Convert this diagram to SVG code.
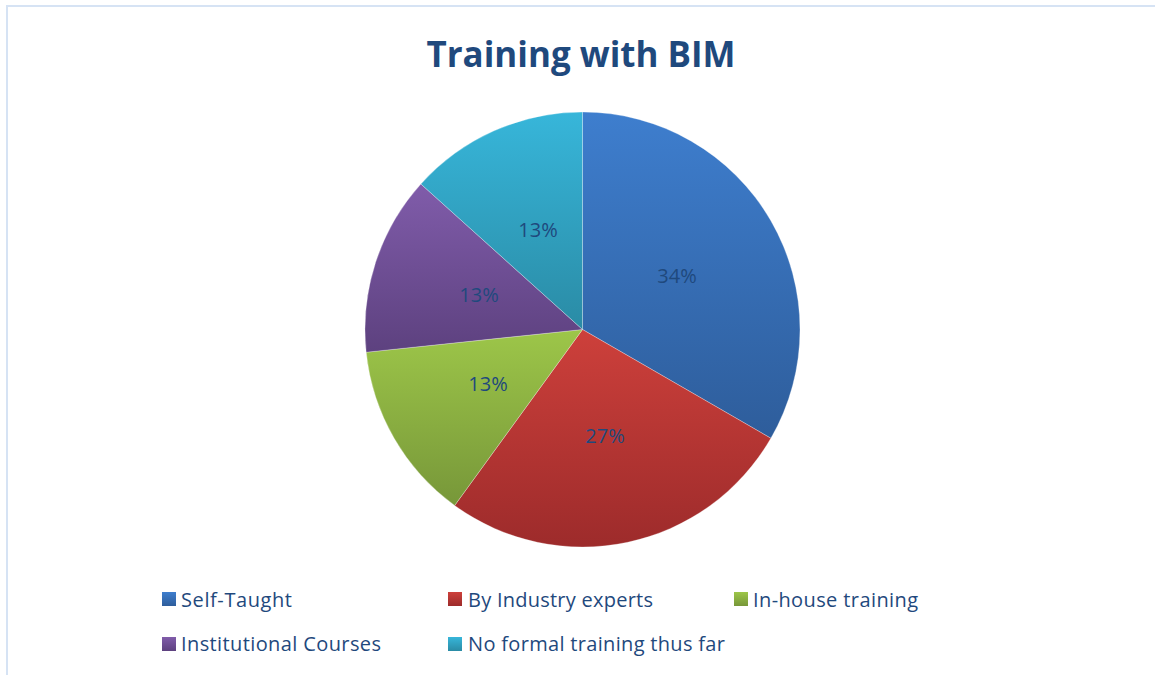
<svg xmlns="http://www.w3.org/2000/svg" width="1155" height="675" viewBox="0 0 1155 675">
  <style>
    .title { font-family: "Open Sans", "Liberation Sans", sans-serif; font-weight: bold; font-size: 36px; fill: #1F497D; }
    .pct { font-family: "Open Sans", "Liberation Sans", sans-serif; font-size: 20px; fill: #1F497D; text-anchor: middle; }
    .leg { font-family: "Open Sans", "Liberation Sans", sans-serif; font-size: 20px; fill: #1F497D; }
    .slice { stroke: #ffffff; stroke-opacity: 0.35; stroke-width: 0.8; }
  </style>
  <defs>
    <linearGradient id="gBlue" x1="0" y1="0" x2="0" y2="1"><stop offset="0" stop-color="#3E7ECE"/><stop offset="1" stop-color="#2E5D9B"/></linearGradient>
    <linearGradient id="gRed" x1="0" y1="0" x2="0" y2="1"><stop offset="0" stop-color="#CD403B"/><stop offset="1" stop-color="#9D2B2B"/></linearGradient>
    <linearGradient id="gGreen" x1="0" y1="0" x2="0" y2="1"><stop offset="0" stop-color="#9DC649"/><stop offset="1" stop-color="#779739"/></linearGradient>
    <linearGradient id="gPurple" x1="0" y1="0" x2="0" y2="1"><stop offset="0" stop-color="#805CAA"/><stop offset="1" stop-color="#5D417F"/></linearGradient>
    <linearGradient id="gTeal" x1="0" y1="0" x2="0" y2="1"><stop offset="0" stop-color="#37B6DA"/><stop offset="1" stop-color="#2A8BA5"/></linearGradient>
  </defs>

  <rect x="0" y="0" width="1155" height="675" fill="#ffffff"/>
  <path d="M7,675 V6 H1155" fill="none" stroke="#D6E3F4" stroke-width="2"/>

  <text class="title" x="581" y="67" text-anchor="middle" textLength="309" lengthAdjust="spacingAndGlyphs">Training with BIM</text>

  <g id="pie">
    <g id="slice-self-taught"><path class="slice" fill="url(#gBlue)" d="M582.5,329.5 L582.5,112 A217.5,217.5 0 0 1 770.86,438.25 Z"/></g>
    <g id="slice-industry"><path class="slice" fill="url(#gRed)" d="M582.5,329.5 L770.86,438.25 A217.5,217.5 0 0 1 454.66,505.46 Z"/></g>
    <g id="slice-inhouse"><path class="slice" fill="url(#gGreen)" d="M582.5,329.5 L454.66,505.46 A217.5,217.5 0 0 1 366.19,352.23 Z"/></g>
    <g id="slice-institutional"><path class="slice" fill="url(#gPurple)" d="M582.5,329.5 L366.19,352.23 A217.5,217.5 0 0 1 420.87,183.96 Z"/></g>
    <g id="slice-noformal"><path class="slice" fill="url(#gTeal)" d="M582.5,329.5 L420.87,183.96 A217.5,217.5 0 0 1 582.5,112 Z"/></g>
  </g>

  <g id="labels">
    <text class="pct" x="677" y="283">34%</text>
    <text class="pct" x="605" y="443">27%</text>
    <text class="pct" x="488" y="391">13%</text>
    <text class="pct" x="479" y="302">13%</text>
    <text class="pct" x="538" y="237">13%</text>
  </g>

  <g id="legend">
    <g id="leg-self-taught"><rect x="162" y="592" width="14" height="14" fill="url(#gBlue)"/><text class="leg" x="181" y="606.5" textLength="111">Self-Taught</text></g>
    <g id="leg-industry"><rect x="448" y="592" width="14" height="14" fill="url(#gRed)"/><text class="leg" x="468" y="606.5" textLength="185">By Industry experts</text></g>
    <g id="leg-inhouse"><rect x="734" y="592" width="14" height="14" fill="url(#gGreen)"/><text class="leg" x="753" y="606.5" textLength="165">In-house training</text></g>
    <g id="leg-institutional"><rect x="162" y="637" width="14" height="14" fill="url(#gPurple)"/><text class="leg" x="181" y="651" textLength="200">Institutional Courses</text></g>
    <g id="leg-noformal"><rect x="448" y="637" width="14" height="14" fill="url(#gTeal)"/><text class="leg" x="468" y="651" textLength="257">No formal training thus far</text></g>
  </g>

  <g id="connectors"/>
</svg>
